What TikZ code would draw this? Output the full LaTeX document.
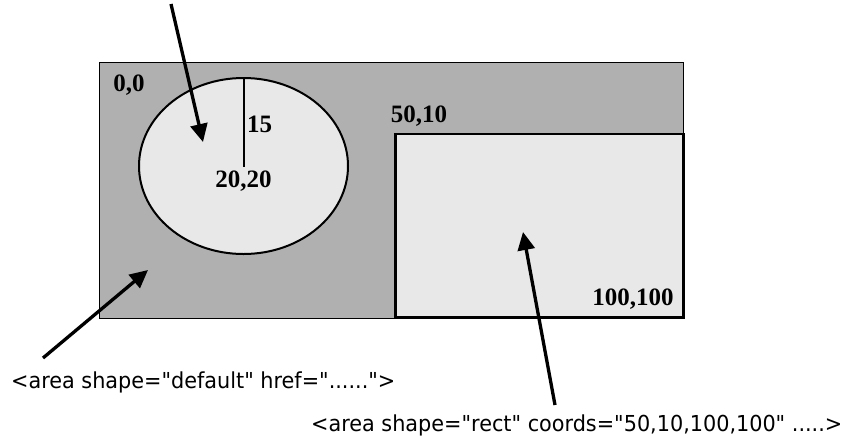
\documentclass[tikz,border=0pt]{standalone}
\usepackage{fontspec}
\setmainfont{Liberation Serif}
\newfontfamily\tahomalike{DejaVu Sans Condensed}
\usetikzlibrary{arrows.meta}
\definecolor{bggray}{RGB}{176,176,176}
\definecolor{lightfill}{RGB}{232,232,232}
\tikzset{
  lbl/.style={font=\fontsize{25}{28}\selectfont\bfseries, inner sep=0pt},
  codetxt/.style={font=\tahomalike\fontsize{22}{26}\selectfont, inner sep=0pt, anchor=west},
  pointer/.style={line width=3.3pt, -{Triangle[length=18pt,width=17pt]}},
}
\begin{document}
\begin{tikzpicture}[x=1pt,y=-1pt]
\useasboundingbox (0,0) rectangle (853,445);
% default area
\draw[fill=bggray, line width=1pt] (99,62.5) rectangle (683.5,318);
% circle area
\draw[fill=lightfill, line width=2pt] (243.5,166) ellipse [x radius=104.5pt, y radius=88pt];
\coordinate (ctr) at (243.5,167);
\coordinate (ctop) at (243.5,78);
\draw[line width=2pt] (ctop) -- (ctr);
% rect area
\draw[fill=lightfill, line width=2.5pt] (395.5,134) rectangle (683.5,317.5);
% labels
\node[lbl] (l00) at (129,85) {0,0};
\node[lbl] (l15) at (259.5,124) {15};
\node[lbl] (l2020) at (243.5,181) {20,20};
\node[lbl] (l5010) at (419,116.5) {50,10};
\node[lbl] (l100) at (633,299) {100,100};
% code texts
\node[codetxt] (tdef) at (11,382) {\scalebox{1.05}[1]{<area shape="default" href="......">}};
\node[codetxt] (trect) at (311,425) {\scalebox{1.05}[1]{<area shape="rect" coords="50,10,100,100" .....>}};
% arrows
\coordinate (a1s) at (171,4);
\coordinate (a1e) at (203,142);
\coordinate (a2s) at (43,358);
\coordinate (a2e) at (148,270);
\coordinate (a3s) at (555,405);
\coordinate (a3e) at (523,232);
\draw[pointer] (a1s) -- (a1e);
\draw[pointer] (a2s) -- (a2e);
\draw[pointer] (a3s) -- (a3e);
\end{tikzpicture}
\end{document}
